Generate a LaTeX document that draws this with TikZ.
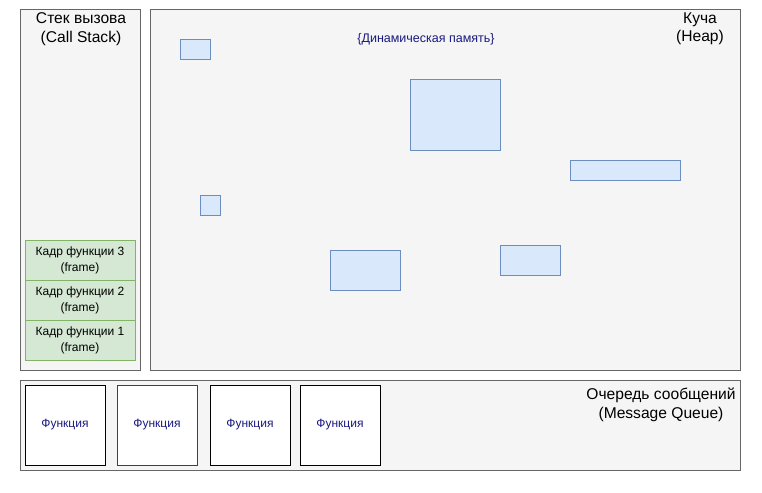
\documentclass[tikz,border=0pt]{standalone}
\usepackage{fontspec}
\setmainfont{Liberation Sans}
\definecolor{panelfill}{HTML}{F5F5F5}
\definecolor{paneldraw}{HTML}{666666}
\definecolor{bluefill}{HTML}{DAE8FC}
\definecolor{bluedraw}{HTML}{6C8EBF}
\definecolor{greenfill}{HTML}{D5E8D4}
\definecolor{greendraw}{HTML}{82B366}
\definecolor{textblue}{HTML}{1A1A80}
\begin{document}
\begin{tikzpicture}[x=1pt,y=-1pt,
  panel/.style={draw=paneldraw,fill=panelfill,line width=1pt},
  blk/.style={draw=bluedraw,fill=bluefill,line width=1pt},
  framebox/.style={draw=greendraw,fill=greenfill,line width=1pt,align=center,
    font=\fontsize{12}{16}\selectfont,inner sep=0pt},
  funcbox/.style={draw=black,fill=white,line width=1pt,
    font=\fontsize{12}{14}\selectfont,text=textblue,inner sep=0pt},
  title/.style={align=center,font=\fontsize{15.6}{18.5}\selectfont,inner sep=0pt}]
\useasboundingbox (0,0) rectangle (762,492);
% panels
\draw[panel] (20,10) rectangle (140,370);
\draw[panel] (150,10) rectangle (740,370);
\draw[panel] (20,380) rectangle (740,470);
% titles
\node[title] (stacktitle) at (81,29) {Стек вызова\\(Call Stack)};
\node[title] (heaptitle) at (700,29) {Куча\\(Heap)};
\node[title] (queuetitle) at (661,405) {Очередь сообщений\\(Message Queue)};
\node[font=\fontsize{12.5}{14}\selectfont,text=textblue,inner sep=0pt] (dyn) at (426,39) {\{Динамическая память\}};
% heap blocks
\draw[blk] (180,40) rectangle (210,60);
\draw[blk] (410,80) rectangle (500,150);
\draw[blk] (570,160) rectangle (680,180);
\draw[blk] (200,195) rectangle (220,215);
\draw[blk] (330,250) rectangle (400,290);
\draw[blk] (500,245) rectangle (560,275);
% frames
\node[framebox,minimum width=110pt,minimum height=40pt] (f3) at (80,260) {Кадр функции 3\\(frame)};
\node[framebox,minimum width=110pt,minimum height=40pt] (f2) at (80,300) {Кадр функции 2\\(frame)};
\node[framebox,minimum width=110pt,minimum height=40pt] (f1) at (80,340) {Кадр функции 1\\(frame)};
% functions
\node[funcbox,minimum width=80pt,minimum height=80pt] (q1) at (65,425) {Функция};
\node[funcbox,draw=black!75,minimum width=80pt,minimum height=80pt] (q2) at (157,425) {Функция};
\node[funcbox,minimum width=80pt,minimum height=80pt] (q3) at (250,425) {Функция};
\node[funcbox,minimum width=80pt,minimum height=80pt] (q4) at (340,425) {Функция};
\end{tikzpicture}
\end{document}
